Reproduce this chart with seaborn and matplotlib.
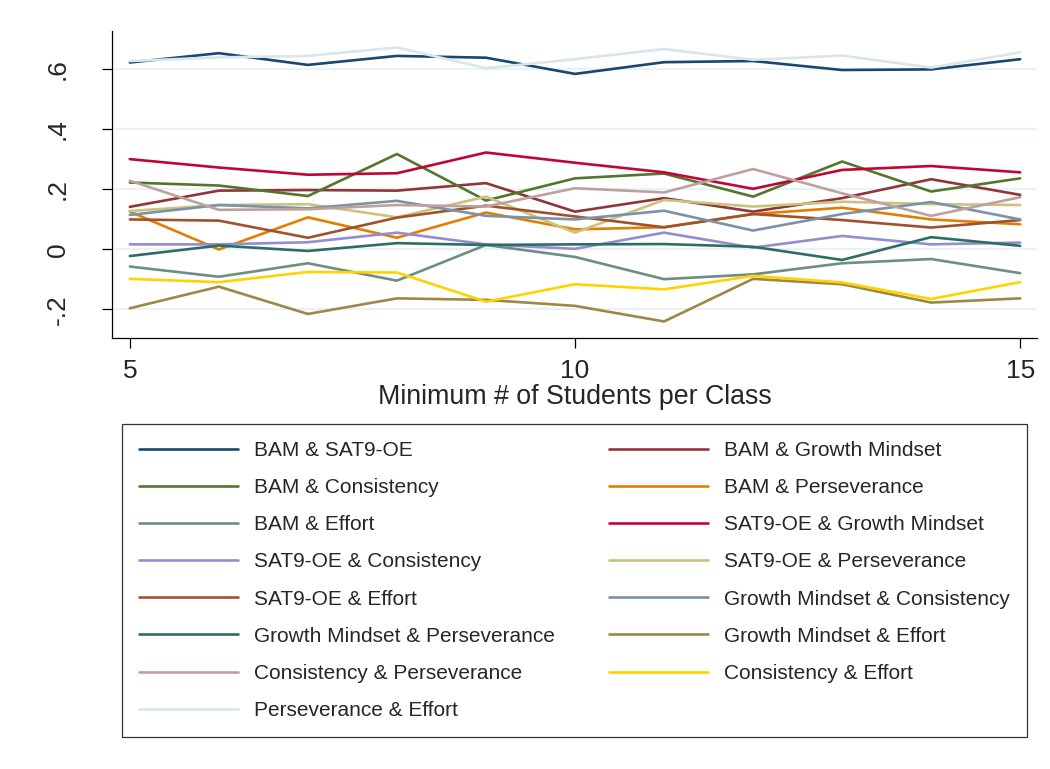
import numpy as np
import pandas as pd
import matplotlib
matplotlib.use("Agg")
import matplotlib.pyplot as plt
import seaborn as sns

# Correlations by minimum class size
min_students = [5, 6, 7, 8, 9, 10, 11, 12, 13, 14, 15]

pairs = [
    "BAM & SAT9-OE", "BAM & Growth Mindset", "BAM & Consistency",
    "BAM & Perseverance", "BAM & Effort", "SAT9-OE & Growth Mindset",
    "SAT9-OE & Consistency", "SAT9-OE & Perseverance", "SAT9-OE & Effort",
    "Growth Mindset & Consistency", "Growth Mindset & Perseverance",
    "Growth Mindset & Effort", "Consistency & Perseverance",
    "Consistency & Effort", "Perseverance & Effort",
]

bam_sat9 = [0.623, 0.654, 0.615, 0.645, 0.639, 0.585, 0.624, 0.628, 0.598, 0.600, 0.634]
bam_growth = [0.142, 0.196, 0.198, 0.196, 0.221, 0.126, 0.171, 0.126, 0.171, 0.234, 0.182]
bam_consistency = [0.223, 0.213, 0.178, 0.318, 0.163, 0.237, 0.253, 0.176, 0.293, 0.193, 0.237]
bam_persev = [0.126, 0.000, 0.107, 0.039, 0.123, 0.067, 0.074, 0.118, 0.139, 0.100, 0.084]
bam_effort = [-0.057, -0.091, -0.046, -0.104, 0.015, -0.025, -0.099, -0.083, -0.046, -0.032, -0.079]
sat9_growth = [0.301, 0.273, 0.249, 0.254, 0.323, 0.289, 0.257, 0.202, 0.265, 0.278, 0.257]
sat9_consistency = [0.017, 0.017, 0.024, 0.056, 0.017, 0.002, 0.056, 0.006, 0.045, 0.017, 0.023]
sat9_persev = [0.128, 0.148, 0.151, 0.107, 0.176, 0.056, 0.165, 0.143, 0.159, 0.151, 0.148]
sat9_effort = [0.100, 0.096, 0.039, 0.106, 0.146, 0.110, 0.074, 0.118, 0.098, 0.073, 0.098]
growth_consistency = [0.115, 0.148, 0.137, 0.162, 0.112, 0.100, 0.129, 0.063, 0.118, 0.158, 0.100]
growth_persev = [-0.022, 0.013, -0.005, 0.021, 0.015, 0.017, 0.018, 0.009, -0.035, 0.041, 0.012]
growth_effort = [-0.196, -0.124, -0.215, -0.163, -0.168, -0.188, -0.240, -0.098, -0.116, -0.177, -0.163]
consistency_persev = [0.229, 0.132, 0.134, 0.148, 0.143, 0.204, 0.190, 0.268, 0.187, 0.112, 0.174]
consistency_effort = [-0.098, -0.109, -0.075, -0.077, -0.174, -0.116, -0.133, -0.088, -0.110, -0.165, -0.109]
persev_effort = [0.628, 0.640, 0.645, 0.673, 0.604, 0.634, 0.668, 0.632, 0.646, 0.606, 0.657]

series = [
    bam_sat9, bam_growth, bam_consistency, bam_persev, bam_effort,
    sat9_growth, sat9_consistency, sat9_persev, sat9_effort,
    growth_consistency, growth_persev, growth_effort,
    consistency_persev, consistency_effort, persev_effort,
]

# Stata s2color line colours
colors = [
    "#1a476f", "#90353b", "#55752f", "#e37e00", "#6e8e84",
    "#c10534", "#938dd2", "#cac27e", "#a0522d", "#7b92a8",
    "#2d6d66", "#9c8847", "#bfa19c", "#ffd200", "#d9e6eb",
]

df = pd.DataFrame({
    "min_students": np.tile(min_students, len(pairs)),
    "corr": np.concatenate(series),
    "pair": np.repeat(pairs, len(min_students)),
})

sns.set_style("white")
plt.rcParams["font.family"] = ["Liberation Sans", "DejaVu Sans"]

fig = plt.figure(figsize=(10.5, 7.69), dpi=100)
ax = fig.add_axes([0.1067, 0.5605, 0.881, 0.3992])

sns.lineplot(data=df, x="min_students", y="corr", hue="pair",
             hue_order=pairs, palette=colors, linewidth=1.9,
             errorbar=None, legend=False, ax=ax)

ax.set_xlim(4.8, 15.19)
ax.set_ylim(-0.295, 0.728)
ax.set_xticks([5, 10, 15])
ax.set_xticklabels(["5", "10", "15"])
ax.set_yticks([-0.2, 0, 0.2, 0.4, 0.6])
ax.set_yticklabels(["-.2", "0", ".2", ".4", ".6"], rotation=90, va="center")

ax.grid(axis="y", color="#eaf2f3", linewidth=1.6)
ax.grid(axis="x", visible=False)
ax.set_axisbelow(True)

for side in ["top", "right"]:
    ax.spines[side].set_visible(False)
for side in ["left", "bottom"]:
    ax.spines[side].set_color("black")
    ax.spines[side].set_linewidth(0.9)

ax.tick_params(axis="both", direction="out", length=7.2, width=0.9,
               color="black", labelsize=19, left=True, bottom=True)
ax.tick_params(axis="y", pad=23)
ax.tick_params(axis="x", pad=8)

ax.set_xlabel("Minimum # of Students per Class", fontsize=19.3, labelpad=1)
ax.set_ylabel("")

# legend in row-major order, 2 columns
handles = ax.get_lines()[:len(pairs)]
order = list(range(0, len(pairs), 2)) + list(range(1, len(pairs), 2))
leg = fig.legend([handles[i] for i in order], [pairs[i] for i in order],
                 ncol=2, mode="expand", loc="upper left",
                 bbox_to_anchor=(122 / 1050, 1 - 424 / 769, 905 / 1050, 0),
                 fontsize=15, frameon=True, fancybox=False,
                 handlelength=4.75, handletextpad=0.77, labelspacing=0.87,
                 borderpad=0.82, borderaxespad=0)
leg.get_frame().set_edgecolor("black")
leg.get_frame().set_linewidth(0.9)
for line in leg.get_lines():
    line.set_linewidth(1.9)

fig.savefig("out.png", dpi=100, facecolor="white")
